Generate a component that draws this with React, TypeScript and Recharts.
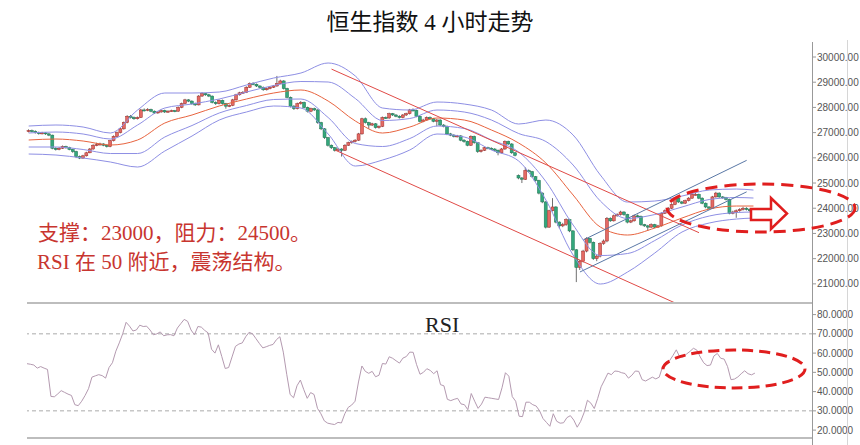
import { ComposedChart, Bar, Line, XAxis, YAxis, ReferenceLine } from 'recharts';

// 4h candles (index 0 = first candle on the left)
const opens = [
  27050, 27080, 27050, 27000, 26960, 26990, 26950, 26900, 26380, 26330,
  26380, 26450, 26400, 26330, 26250, 26050, 25990, 26080, 26200, 26350,
  26500, 26520, 26550, 26500, 26450, 26680, 26850, 27000, 27150, 27400,
  27650, 27600, 27550, 27600, 27900, 27880, 27920, 27850, 27780, 27820,
  27880, 27820, 27850, 27870, 27850, 28000, 28150, 28300, 28250, 28150,
  28100, 28450, 28550, 28500, 28450, 28200, 28150, 28280, 28150, 28050,
  28080, 28300, 28500, 28580, 28600, 28800, 28950, 28920, 28850, 28800,
  28700, 28750, 28800, 28850, 28950, 29050, 28750, 28400, 28050, 27950,
  28150, 28200, 28000, 27850, 27950, 27900, 27400, 27150, 26800, 26500,
  26400, 26300, 26350, 26300, 26500, 26600, 26650, 26700, 26950, 27550,
  27400, 27300, 27350, 27200, 27250, 27600, 27580, 27750, 27700, 27650,
  27600, 27700, 27750, 27900, 27880, 27650, 27450, 27500, 27600, 27550,
  27450, 27500, 27300, 27250, 26950, 26900, 26850, 26870, 26700, 26650,
  26500, 26850, 26600, 26250, 26300, 26400, 26380, 26350, 26300, 26200,
  26350, 26650, 26550, 26200, 25300, 25200, 25150, 25500, 25450, 25250,
  25100, 24600, 24250, 23250, 23900, 24050, 23450, 23300, 23350, 23550,
  23100, 22350, 21650, 21900, 22300, 22800, 22650, 22000, 22100, 22600,
  22700, 23600, 23500, 23700, 23750, 23850, 23750, 23450, 23500, 23700,
  23680, 23350, 23300, 23250, 23350, 23250, 23300, 23800, 23900, 24000,
  24150, 24400, 24250, 24200, 24300, 24400, 24550, 24550, 24400, 24200,
  24050, 24000, 24450, 24600, 24450, 24420, 24350, 23800, 23850, 23900,
  23950, 24000, 23950, 23900,
];
const highs = [
  27130, 27120, 27090, 27040, 27030, 27020, 26980, 26920, 26420, 26430,
  26490, 26480, 26440, 26360, 26280, 26090, 26120, 26240, 26390, 26540,
  26600, 26600, 26580, 26530, 26710, 26890, 27040, 27190, 27440, 27690,
  27700, 27640, 27640, 27940, 27960, 27970, 27950, 27880, 27860, 27920,
  27910, 27890, 27910, 27900, 28040, 28190, 28340, 28330, 28280, 28190,
  28490, 28600, 28580, 28540, 28470, 28240, 28320, 28310, 28180, 28120,
  28340, 28540, 28620, 28650, 28840, 28990, 29000, 28950, 28880, 28830,
  28790, 28840, 28890, 29250, 29100, 29080, 28780, 28430, 28090, 28190,
  28250, 28230, 28030, 27990, 27990, 27930, 27430, 27180, 26830, 26530,
  26430, 26390, 26380, 26540, 26640, 26690, 26740, 26990, 27590, 27600,
  27430, 27390, 27380, 27290, 27640, 27640, 27790, 27780, 27730, 27690,
  27740, 27790, 27940, 27960, 27910, 27680, 27550, 27640, 27640, 27580,
  27540, 27530, 27340, 27280, 26990, 26940, 26910, 26900, 26740, 26680,
  26890, 26880, 26630, 26340, 26440, 26440, 26420, 26380, 26330, 26390,
  26690, 26680, 26580, 26230, 25340, 25240, 25620, 25540, 25480, 25280,
  25130, 24630, 24280, 23940, 24400, 24080, 23480, 23420, 23600, 23580,
  23130, 22380, 21950, 22350, 22850, 22830, 22680, 22150, 22650, 22760,
  23650, 23640, 23750, 23800, 23900, 23880, 23780, 23550, 23750, 23750,
  23710, 23380, 23340, 23400, 23380, 23340, 23840, 23950, 24050, 24200,
  24450, 24430, 24290, 24340, 24440, 24600, 24620, 24580, 24430, 24230,
  24080, 24490, 24650, 24630, 24480, 24450, 24380, 23900, 23950, 24000,
  24060, 24040, 23990, 24000,
];
const lows = [
  27010, 27010, 26960, 26920, 26930, 26910, 26860, 26340, 26290, 26300,
  26350, 26360, 26300, 26200, 25990, 25950, 25960, 26050, 26180, 26320,
  26460, 26490, 26460, 26410, 26420, 26650, 26820, 26970, 27120, 27370,
  27560, 27510, 27520, 27580, 27840, 27850, 27810, 27740, 27750, 27790,
  27780, 27790, 27820, 27810, 27830, 27970, 28120, 28210, 28110, 28060,
  28080, 28420, 28460, 28410, 28160, 28100, 28120, 28110, 27950, 28010,
  28050, 28270, 28470, 28540, 28570, 28770, 28880, 28810, 28760, 28660,
  28670, 28720, 28770, 28820, 28920, 28710, 28360, 28000, 27900, 27920,
  28110, 27960, 27800, 27810, 27860, 27350, 27100, 26750, 26450, 26350,
  26250, 26260, 26050, 26270, 26470, 26560, 26610, 26670, 26920, 27360,
  27150, 27260, 27160, 27160, 27220, 27540, 27550, 27660, 27610, 27560,
  27570, 27660, 27720, 27840, 27610, 27410, 27410, 27470, 27510, 27410,
  27250, 27260, 27210, 26900, 26860, 26810, 26810, 26660, 26600, 26460,
  26470, 26560, 26200, 26210, 26270, 26340, 26310, 26260, 26100, 26170,
  26320, 26510, 26160, 26060, 25150, 25000, 25120, 25410, 25210, 25060,
  24550, 24200, 23200, 23220, 23870, 23400, 23200, 23250, 23300, 23050,
  22300, 21070, 21550, 21850, 22250, 22600, 21950, 21900, 22050, 22550,
  22650, 23460, 23470, 23660, 23710, 23700, 23400, 23410, 23470, 23640,
  23300, 23260, 23100, 23220, 23210, 23220, 23270, 23770, 23870, 23970,
  24120, 24210, 24160, 24170, 24270, 24370, 24500, 24360, 24160, 24000,
  23950, 23970, 24420, 24410, 24380, 24310, 23760, 23760, 23620, 23860,
  23910, 23910, 23860, 23870,
];
const closes = [
  27080, 27050, 27000, 26960, 26990, 26950, 26900, 26380, 26330, 26380,
  26450, 26400, 26330, 26250, 26050, 25990, 26080, 26200, 26350, 26500,
  26520, 26550, 26500, 26450, 26680, 26850, 27000, 27150, 27400, 27650,
  27600, 27550, 27600, 27900, 27880, 27920, 27850, 27780, 27820, 27880,
  27820, 27850, 27870, 27850, 28000, 28150, 28300, 28250, 28150, 28100,
  28450, 28550, 28500, 28450, 28200, 28150, 28280, 28150, 28050, 28080,
  28300, 28500, 28580, 28600, 28800, 28950, 28920, 28850, 28800, 28700,
  28750, 28800, 28850, 28950, 29050, 28750, 28400, 28050, 27950, 28150,
  28200, 28000, 27850, 27950, 27900, 27400, 27150, 26800, 26500, 26400,
  26300, 26350, 26300, 26500, 26600, 26650, 26700, 26950, 27550, 27400,
  27300, 27350, 27200, 27250, 27600, 27580, 27750, 27700, 27650, 27600,
  27700, 27750, 27900, 27880, 27650, 27450, 27500, 27600, 27550, 27450,
  27500, 27300, 27250, 26950, 26900, 26850, 26870, 26700, 26650, 26500,
  26850, 26600, 26250, 26300, 26400, 26380, 26350, 26300, 26200, 26350,
  26650, 26550, 26200, 26100, 25200, 25150, 25500, 25450, 25250, 25100,
  24600, 24250, 23250, 23900, 24050, 23450, 23300, 23350, 23550, 23100,
  22350, 21650, 21900, 22300, 22800, 22650, 22000, 22100, 22600, 22700,
  23600, 23500, 23700, 23750, 23850, 23750, 23450, 23500, 23700, 23680,
  23350, 23300, 23250, 23350, 23250, 23300, 23800, 23900, 24000, 24150,
  24400, 24250, 24200, 24300, 24400, 24550, 24550, 24400, 24200, 24050,
  24000, 24450, 24600, 24450, 24420, 24350, 23800, 23850, 23900, 23950,
  24000, 23950, 23900, 23950,
];
const rsiValues = [
  54.5, 54.2, 53.8, 52.2, 53, 52.2, 51.5, 37.5, 37.3, 38.8,
  40.5, 39.6, 38.7, 38, 33.2, 32.7, 35, 38, 41.5, 47.5,
  48.2, 48.8, 48.3, 47, 52.5, 55, 61, 65.3, 70, 76,
  74, 71.5, 72, 74.5, 73.8, 74, 72, 69.5, 70, 71,
  69, 69.5, 69.6, 69, 73, 75.3, 77.5, 76.5, 72, 69.5,
  73.8, 73.5, 71.8, 70.5, 62, 60, 64.3, 58.2, 52, 52.5,
  58, 63.5, 64.7, 65.3, 68.5, 70.8, 70, 67.5, 65, 62.7,
  63.3, 64, 64.5, 67, 68.5, 60.5, 49, 38.5, 36.8, 43,
  46, 41, 36.5, 39.5, 38.5, 31.3, 28.5, 24.8, 23.6, 23.2,
  22.9, 24, 23.7, 28.5, 31.8, 33, 35, 45, 53.3, 50.5,
  49.5, 50.5, 47.7, 48.5, 54.6, 54.3, 58.1, 57.3, 56, 54.8,
  57.4, 58.2, 60.5, 60.4, 54, 49, 50, 51.9, 51, 49.3,
  50.8, 43.6, 43, 36, 35.3, 36, 36.5, 33.6, 33.2, 30.6,
  39, 35, 31.3, 33.5, 37.1, 36.8, 36.5, 36.2, 35.9, 42,
  49.8, 48, 37.4, 35, 27.2, 27, 34.5, 34.5, 33.2, 32.5,
  30, 26, 24, 22, 28.5, 24.6, 23.6, 23.8, 26.5, 27.5,
  25.2, 21.5, 24.5, 29, 35.5, 34, 31.2, 36.5, 42.5, 46,
  49.6, 48.8, 50.7, 50.5, 49.8, 49.4, 47, 48.5, 50.7, 50.5,
  46.2, 45.5, 46.5, 47.5, 46.6, 47.5, 53, 55.4, 56, 58.7,
  61.7, 58, 58, 59.5, 60.9, 62.5, 61.6, 58, 55, 53.5,
  53.8, 58.5, 59.8, 57.3, 56.9, 53, 46.2, 46.5, 47.6, 49.3,
  50.8, 49.3, 48.7, 49.6,
];

// Bollinger bands, read at every 8th candle
const bandAt = [0, 8, 16, 24, 32, 40, 48, 56, 64, 72, 80, 88, 96, 104, 112, 120, 128, 136, 144, 152, 160, 168, 176, 184, 192, 200, 208, 213];
const outerUp = [27262, 27302, 27222, 26984, 27897, 28572, 28572, 28611, 28889, 29167, 29365, 29762, 29246, 27976, 27897, 28214, 28135, 27897, 27341, 27500, 26905, 25318, 24246, 24286, 24484, 24722, 24762, 24722];
const innerUp = [26985, 27024, 26945, 26746, 27302, 27976, 28135, 28333, 28611, 28869, 29028, 29008, 28353, 27480, 27560, 27897, 27818, 27500, 26964, 26647, 25714, 24286, 23592, 23750, 24048, 24346, 24425, 24405];
const midBand = [26707, 26746, 26667, 26508, 26707, 27381, 27699, 28056, 28333, 28572, 28691, 28254, 27460, 26984, 27222, 27580, 27500, 27103, 26587, 25794, 24524, 23254, 22937, 23214, 23611, 23969, 24088, 24088];
const innerLow = [26429, 26429, 26330, 26171, 26171, 26826, 27282, 27778, 28075, 28314, 28333, 27600, 26568, 26449, 26766, 27262, 27163, 26707, 26230, 25060, 23333, 22124, 22203, 22718, 23334, 23691, 23830, 23850];
const outerLow = [26151, 26111, 25992, 25834, 25635, 26270, 26865, 27500, 27818, 28056, 27976, 26945, 25675, 25913, 26310, 26945, 26826, 26310, 25873, 24326, 22143, 20993, 21469, 22223, 23056, 23413, 23572, 23611];

const priceTicks = [21000, 22000, 23000, 24000, 25000, 26000, 27000, 28000, 29000, 30000];
const rsiTicks = [20, 30, 40, 50, 60, 70, 80];
const SLOTS = 231;

const rows = Array.from({ length: SLOTS }, (_, i) => {
  const row: any = { i };
  if (i < closes.length) {
    row.o = opens[i];
    row.h = highs[i];
    row.l = lows[i];
    row.c = closes[i];
    row.range = [lows[i], highs[i]];
    row.rsi = rsiValues[i];
  }
  const k = bandAt.indexOf(i);
  if (k >= 0) {
    row.ou = outerUp[k];
    row.iu = innerUp[k];
    row.mid = midBand[k];
    row.il = innerLow[k];
    row.ol = outerLow[k];
  }
  return row;
});

const PURPLE = '#8e8fe4';
const tickStyle = { fontSize: 10, fill: '#555', fontFamily: 'Liberation Sans, Arial, sans-serif' };
const serif = "'Liberation Serif', 'Noto Sans CJK SC', serif";

function Candle(props: any) {
  const { x, y, width, height, payload } = props;
  if (!payload || payload.c == null) return null;
  const top = Math.min(y, y + height);
  const span = Math.abs(height);
  const per = span / (payload.h - payload.l || 1);
  const at = (v: number) => top + (payload.h - v) * per;
  const up = payload.c >= payload.o;
  const bodyTop = at(Math.max(payload.o, payload.c));
  const bodyH = Math.max(1, Math.abs(payload.o - payload.c) * per);
  const cx = x + width / 2;
  return (
    <g>
      <line x1={cx} x2={cx} y1={top} y2={top + span} stroke="#4a4a4a" strokeWidth={0.8} />
      <rect
        x={x}
        y={bodyTop}
        width={width}
        height={bodyH}
        fill={up ? '#e46a64' : '#34a77c'}
        stroke={up ? '#9e2d2a' : '#1d7452'}
        strokeWidth={0.5}
      />
    </g>
  );
}

function band(key: string, color: string) {
  return (
    <Line
      dataKey={key}
      stroke={color}
      strokeWidth={1}
      dot={false}
      connectNulls
      type="monotone"
      isAnimationActive={false}
    />
  );
}

export default function App() {
  return (
    <div style={{ position: 'absolute', left: 0, top: 0, width: 860, height: 445, background: '#fff', overflow: 'hidden' }}>
      {/* price panel */}
      <div style={{ position: 'absolute', left: 0, top: 40 }}>
        <ComposedChart width={860} height={263} data={rows} margin={{ top: 0, right: 0, bottom: 0, left: 27 }}>
          <XAxis dataKey="i" hide />
          <YAxis
            orientation="right"
            width={47}
            type="number"
            domain={[20240, 30675]}
            allowDataOverflow
            ticks={priceTicks}
            tickFormatter={(v) => Number(v).toFixed(2)}
            axisLine={false}
            tickLine={{ stroke: '#999' }}
            tickSize={3}
            tickMargin={1}
            tick={tickStyle}
          />
          {band('ou', PURPLE)}
          {band('iu', PURPLE)}
          {band('mid', '#e8643f')}
          {band('il', PURPLE)}
          {band('ol', PURPLE)}
          <ReferenceLine segment={[{ x: 89, y: 29520 }, { x: 197, y: 23030 }]} stroke="#e04a46" ifOverflow="visible" />
          <ReferenceLine segment={[{ x: 90, y: 26310 }, { x: 190, y: 20240 }]} stroke="#e04a46" ifOverflow="visible" />
          <ReferenceLine segment={[{ x: 163, y: 22740 }, { x: 211, y: 25900 }]} stroke="#5a78a6" ifOverflow="visible" />
          <ReferenceLine segment={[{ x: 162, y: 21470 }, { x: 211, y: 24650 }]} stroke="#5a78a6" ifOverflow="visible" />
          <Bar dataKey="range" barSize={3} isAnimationActive={false} shape={(p: any) => <Candle {...p} />} />
        </ComposedChart>
      </div>

      {/* RSI panel */}
      <div style={{ position: 'absolute', left: 0, top: 304 }}>
        <ComposedChart width={860} height={134} data={rows} margin={{ top: 0, right: 0, bottom: 0, left: 27 }}>
          <XAxis dataKey="i" hide />
          <YAxis
            orientation="right"
            width={47}
            type="number"
            domain={[15.9, 85.5]}
            allowDataOverflow
            ticks={rsiTicks}
            tickFormatter={(v) => Number(v).toFixed(4)}
            axisLine={false}
            tickLine={{ stroke: '#999' }}
            tickSize={3}
            tickMargin={1}
            tick={tickStyle}
          />
          <ReferenceLine y={70} stroke="#aaa" strokeDasharray="4 3" />
          <ReferenceLine y={30} stroke="#aaa" strokeDasharray="4 3" />
          <Line dataKey="rsi" stroke="#b49ab0" strokeWidth={1} dot={false} type="linear" isAnimationActive={false} />
        </ComposedChart>
      </div>

      {/* frame lines */}
      <div style={{ position: 'absolute', left: 27, top: 302, width: 786, height: 2, background: '#bdbdbd' }} />
      <div style={{ position: 'absolute', left: 27, top: 437, width: 786, height: 2, background: '#bdbdbd' }} />
      <div style={{ position: 'absolute', left: 812, top: 42, width: 1, height: 403, background: '#999' }} />
      <div style={{ position: 'absolute', left: 847, top: 40, width: 1, height: 405, background: '#d6d6d6' }} />

      {/* texts and hand-drawn marks */}
      <svg width={860} height={445} style={{ position: 'absolute', left: 0, top: 0, pointerEvents: 'none' }}>
        <text x={430} y={30} textAnchor="middle" fontSize={23} fontFamily={serif} fill="#111">
          恒生指数 4 小时走势
        </text>
        <text x={38} y={240} fontSize={21} fontFamily={serif} fill="#c8352f">
          支撑：23000，阻力：24500。
        </text>
        <text x={37} y={269} fontSize={21} fontFamily={serif} fill="#c8352f">
          RSI 在 50 附近，震荡结构。
        </text>
        <text x={425} y={332} fontSize={22} fontFamily={serif} fill="#222">
          RSI
        </text>
        <ellipse cx={761} cy={208} rx={94} ry={24} fill="none" stroke="#e01e1e" strokeWidth={3} strokeDasharray="12 7" />
        <ellipse cx={734} cy={369} rx={71} ry={19} fill="none" stroke="#e01e1e" strokeWidth={3} strokeDasharray="11 6" />
        <polygon
          points="751,209 771,209 771,198 787,213.5 771,229 771,220 751,220"
          fill="#fff"
          stroke="#e01e1e"
          strokeWidth={2.5}
          strokeLinejoin="miter"
        />
      </svg>
    </div>
  );
}
